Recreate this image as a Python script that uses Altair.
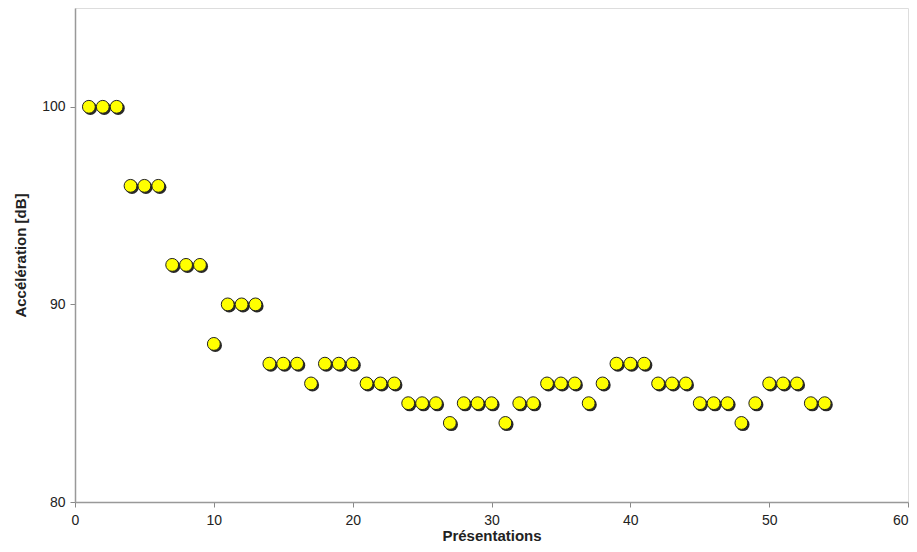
import altair as alt
import pandas as pd

presentations = list(range(1, 55))
acceleration = [100, 100, 100, 96, 96, 96, 92, 92, 92, 88,
                90, 90, 90, 87, 87, 87, 86, 87, 87, 87,
                86, 86, 86, 85, 85, 85, 84, 85, 85, 85,
                84, 85, 85, 86, 86, 86, 85, 86, 87, 87,
                87, 86, 86, 86, 85, 85, 85, 84, 85, 86,
                86, 86, 85, 85]
x_ticks = [0, 10, 20, 30, 40, 50, 60]
y_ticks = [80, 90, 100]

df = pd.DataFrame({"x": presentations, "y": acceleration})

font = "Liberation Sans"
xs = alt.Scale(domain=[0, 60], nice=False)
ys = alt.Scale(domain=[80, 105], nice=False)

base = alt.Chart(df)

shadow = base.mark_point(filled=True, size=175, color="#111111", opacity=0.9,
                         xOffset=1.5, yOffset=1.5).encode(
    x=alt.X("x:Q", scale=xs),
    y=alt.Y("y:Q", scale=ys),
)

dots = base.mark_point(filled=True, size=165, fill="#ffff00", stroke="#222222",
                       strokeWidth=1, opacity=1).encode(
    x=alt.X("x:Q", scale=xs, title="Présentations",
            axis=alt.Axis(values=x_ticks, grid=False, labelFont=font, labelFontSize=14,
                          labelColor="#222", titleFont=font, titleFontSize=15,
                          titleFontWeight="bold", titleColor="#222", tickColor="#888",
                          domainColor="#999", domainWidth=1.5, tickSize=5,
                          labelFlush=False,
                          labelAlign=alt.ExprRef("datum.value == 60 ? 'right' : 'center'"),
                          labelPadding=6, titlePadding=1)),
    y=alt.Y("y:Q", scale=ys, title="Accélération [dB]",
            axis=alt.Axis(values=y_ticks, grid=False, labelFont=font, labelFontSize=14,
                          labelColor="#222", titleFont=font, titleFontSize=15,
                          titleFontWeight="bold", titleColor="#222", tickColor="#888",
                          domainColor="#999", domainWidth=1.5, tickSize=5,
                          labelFlush=False, labelPadding=5, titlePadding=13)),
)

chart = (shadow + dots).properties(
    width=833, height=494,
    autosize=alt.AutoSizeParams(type="none"),
    padding={"left": 67, "top": 0, "right": 1, "bottom": 42},
).configure_view(stroke="#aaaaaa", strokeWidth=1.5).configure(background="white")

chart.save("out.html", embed_options={"renderer": "svg", "actions": False})
